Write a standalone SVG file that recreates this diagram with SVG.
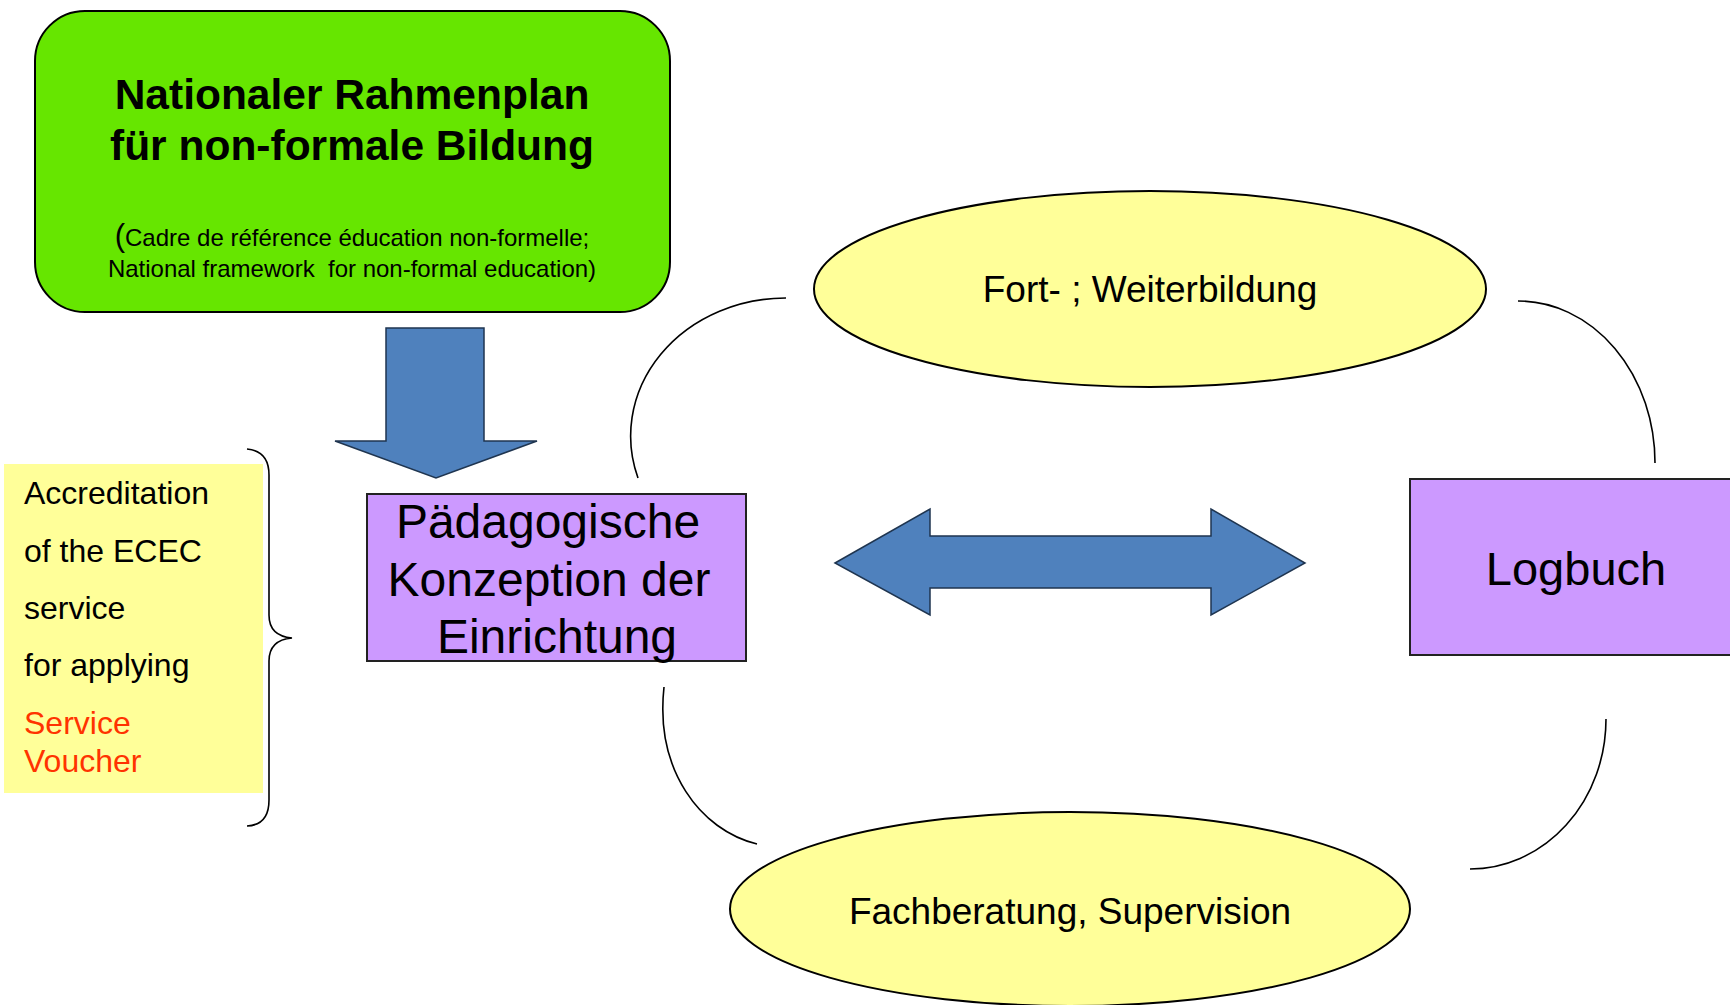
<svg xmlns="http://www.w3.org/2000/svg" width="1730" height="1005" viewBox="0 0 1730 1005">
<style>
text{font-family:"Liberation Sans",Arial,sans-serif;fill:#000}
.box{stroke:#000;stroke-width:2}
.purple{fill:#CC99FF;stroke:#222;stroke-width:2}
.ell{fill:#FFFF99;stroke:#000;stroke-width:2}
.blue{fill:#4F81BD;stroke:#1F3550;stroke-width:1.5}
.arc{fill:none;stroke:#000;stroke-width:1.6}
.pre{white-space:pre}
</style>
<rect width="1730" height="1005" fill="#fff"/>
<g id="nationaler-rahmenplan">
<rect class="box" x="35" y="11" width="635" height="301" rx="50" ry="50" fill="#66E600"/>
<text x="352" y="109" font-size="42.5" font-weight="bold" text-anchor="middle">Nationaler Rahmenplan</text>
<text x="352" y="160" font-size="42.5" font-weight="bold" text-anchor="middle">für non-formale Bildung</text>
<text x="352" y="246" font-size="24" text-anchor="middle"><tspan font-size="31">(</tspan>Cadre de référence éducation non-formelle;</text>
<text class="pre" x="352" y="277" font-size="24" text-anchor="middle">National framework  for non-formal education)</text>
</g>
<g id="accreditation">
<rect x="4" y="464" width="259" height="329" fill="#FFFF99"/>
<text x="24" y="504" font-size="32">Accreditation</text>
<text x="24" y="562" font-size="32">of the ECEC</text>
<text x="24" y="619" font-size="32">service</text>
<text x="24" y="676" font-size="32">for applying</text>
<text x="24" y="734" font-size="32" style="fill:#FF3300">Service</text>
<text x="24" y="772" font-size="32" style="fill:#FF3300">Voucher</text>
<path class="arc" d="M 247 449 Q 269 451 269 475 L 269 615 Q 269 636 292 638 Q 269 640 269 661 L 269 800 Q 269 825 247 826"/>
</g>
<g id="paedagogische-konzeption">
<rect class="purple" x="367" y="494" width="379" height="167"/>
<text x="548" y="538" font-size="48" text-anchor="middle">Pädagogische</text>
<text x="549" y="596" font-size="48" text-anchor="middle">Konzeption der</text>
<text x="557" y="653" font-size="48" text-anchor="middle">Einrichtung</text>
</g>
<g id="logbuch">
<rect class="purple" x="1410" y="479" width="330" height="176"/>
<text x="1576" y="585" font-size="47" text-anchor="middle">Logbuch</text>
</g>
<g id="fort-weiterbildung">
<ellipse class="ell" cx="1150" cy="289" rx="336" ry="98"/>
<text x="1150" y="302" font-size="37" text-anchor="middle">Fort- ; Weiterbildung</text>
</g>
<g id="fachberatung-supervision">
<ellipse class="ell" cx="1070" cy="909" rx="340" ry="97"/>
<text x="1070" y="924" font-size="37" text-anchor="middle">Fachberatung, Supervision</text>
</g>
<g id="connectors">
<polygon class="blue" points="386,328 484,328 484,441 537,441 436,478 335,441 386,441"/>
<polygon class="blue" points="835,563 930,509 930,536 1211,536 1211,509 1305,563 1211,615 1211,588 930,588 930,615"/>
<path class="arc" d="M 786 298 A 155 138 0 0 0 638 478"/>
<path class="arc" d="M 1518 301 A 137 162 0 0 1 1655 463"/>
<path class="arc" d="M 664 687 C 655 770 700 830 757 844"/>
<path class="arc" d="M 1606 719 A 136 150 0 0 1 1470 869"/>
</g>
</svg>
